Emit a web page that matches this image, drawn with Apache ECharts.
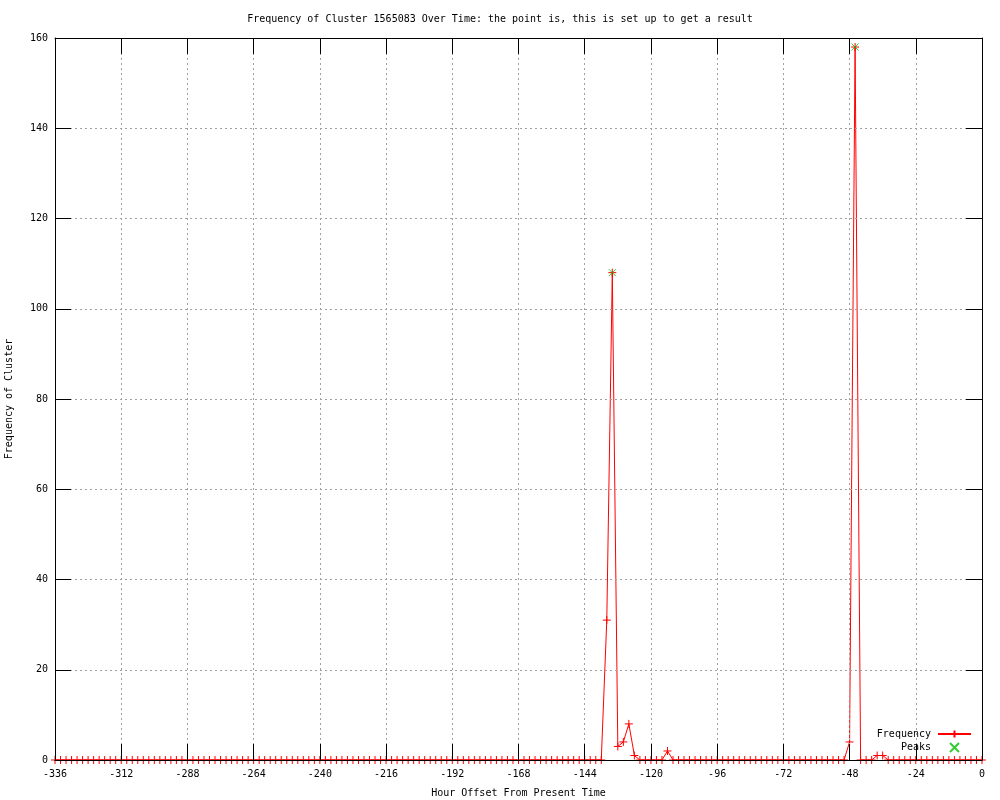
<!DOCTYPE html>
<html>
<head>
<meta charset="utf-8">
<script src="https://cdn.jsdelivr.net/npm/echarts@6/dist/echarts.min.js"></script>
<style>html,body{margin:0;padding:0;background:#fff}#c{width:1000px;height:800px}</style>
</head>
<body>
<div id="c"></div>
<script>
var titleText = 'Frequency of Cluster 1565083 Over Time: the point is, this is set up to get a result';
var xName = 'Hour Offset From Present Time';
var yName = 'Frequency of Cluster';

var hours = [
  -336,-334,-332,-330,-328,-326,-324,-322,-320,-318,-316,-314,
  -312,-310,-308,-306,-304,-302,-300,-298,-296,-294,-292,-290,
  -288,-286,-284,-282,-280,-278,-276,-274,-272,-270,-268,-266,
  -264,-262,-260,-258,-256,-254,-252,-250,-248,-246,-244,-242,
  -240,-238,-236,-234,-232,-230,-228,-226,-224,-222,-220,-218,
  -216,-214,-212,-210,-208,-206,-204,-202,-200,-198,-196,-194,
  -192,-190,-188,-186,-184,-182,-180,-178,-176,-174,-172,-170,
  -168,-166,-164,-162,-160,-158,-156,-154,-152,-150,-148,-146,
  -144,-142,-140,-138,-136,-134,-132,-130,-128,-126,-124,-122,
  -120,-118,-116,-114,-112,-110,-108,-106,-104,-102,-100,-98,
  -96,-94,-92,-90,-88,-86,-84,-82,-80,-78,-76,-74,
  -72,-70,-68,-66,-64,-62,-60,-58,-56,-54,-52,-50,
  -48,-46,-44,-42,-40,-38,-36,-34,-32,-30,-28,-26,
  -24,-22,-20,-18,-16,-14,-12,-10,-8,-6,-4,-2,
  0
];
var frequency = [
  0,0,0,0,0,0,0,0,0,0,0,0,
  0,0,0,0,0,0,0,0,0,0,0,0,
  0,0,0,0,0,0,0,0,0,0,0,0,
  0,0,0,0,0,0,0,0,0,0,0,0,
  0,0,0,0,0,0,0,0,0,0,0,0,
  0,0,0,0,0,0,0,0,0,0,0,0,
  0,0,0,0,0,0,0,0,0,0,0,0,
  0,0,0,0,0,0,0,0,0,0,0,0,
  0,0,0,0,31,108,3,4,8,1,0,0,
  0,0,0,2,0,0,0,0,0,0,0,0,
  0,0,0,0,0,0,0,0,0,0,0,0,
  0,0,0,0,0,0,0,0,0,0,0,0,
  4,158,0,0,0,1,1,0,0,0,0,0,
  0,0,0,0,0,0,0,0,0,0,0,0,
  0
];
var peakHours = [-134, -46];
var peakValues = [108, 158];

var xMin = -336, xMax = 0, xStep = 24;
var yMin = 0, yMax = 160, yStep = 20;

var FONT = '"DejaVu Sans Mono", "Liberation Mono", monospace';
var FS = 10;

var freqData = hours.map(function (h, i) { return [h, frequency[i]]; });
var peakData = peakHours.map(function (h, i) { return [h, peakValues[i]]; });

var plusPath = 'path://M0,5L10,5M5,0L5,10';
var crossPath = 'path://M0,0L10,10M10,0L0,10';

function axisBase(extra) {
  var o = {
    axisLine: { show: true, onZero: false, lineStyle: { color: '#000', width: 1 } },
    axisTick: { show: true, inside: true, length: 16, lineStyle: { color: '#000', width: 1 } },
    z: 5
  };
  for (var k in extra) o[k] = extra[k];
  return o;
}

var chart = echarts.init(document.getElementById('c'), null, { renderer: 'canvas' });
chart.setOption({
  animation: false,
  backgroundColor: '#fff',
  textStyle: { fontFamily: FONT, color: '#000' },
  title: {
    text: titleText,
    left: 'center',
    top: 9,
    textStyle: { fontFamily: FONT, fontSize: FS, fontWeight: 'normal', color: '#000' }
  },
  grid: { left: 55, right: 18, top: 38, bottom: 40, containLabel: false, outerBoundsMode: 'none' },
  legend: {
    orient: 'vertical',
    right: 23,
    top: 724,
    align: 'right',
    itemWidth: 33,
    itemHeight: 9,
    itemGap: 3,
    textStyle: { fontFamily: FONT, fontSize: FS, color: '#000', padding: [0, 2, 0, 0] },
    data: [{ name: 'Frequency' }, { name: 'Peaks' }]
  },
  xAxis: [
    axisBase({
      type: 'value', position: 'bottom', min: xMin, max: xMax, interval: xStep,
      axisLabel: { color: '#000', fontFamily: FONT, fontSize: FS, margin: 9 },
      splitLine: { show: true, lineStyle: { color: '#a0a0a0', type: [2, 3], width: 1 } },
      name: xName, nameLocation: 'middle', nameGap: 28,
      nameTextStyle: { fontFamily: FONT, fontSize: FS, color: '#000' }
    }),
    axisBase({
      type: 'value', position: 'top', min: xMin, max: xMax, interval: xStep,
      axisLabel: { show: false }, splitLine: { show: false }
    })
  ],
  yAxis: [
    axisBase({
      type: 'value', position: 'left', min: yMin, max: yMax, interval: yStep,
      axisLabel: { color: '#000', fontFamily: FONT, fontSize: FS, margin: 7 },
      splitLine: { show: true, lineStyle: { color: '#a0a0a0', type: [2, 3], width: 1 } },
      name: yName, nameLocation: 'middle', nameGap: 41, nameRotate: 90,
      nameTextStyle: { fontFamily: FONT, fontSize: FS, color: '#000' }
    }),
    axisBase({
      type: 'value', position: 'right', min: yMin, max: yMax, interval: yStep,
      axisLabel: { show: false }, splitLine: { show: false }
    })
  ],
  series: [
    {
      name: 'Frequency',
      type: 'line',
      xAxisIndex: 0, yAxisIndex: 0,
      data: freqData,
      showSymbol: true,
      showAllSymbol: true,
      symbol: plusPath,
      symbolSize: 8,
      lineStyle: { color: '#ff0000', width: 1 },
      itemStyle: { color: '#ff0000', borderColor: '#ff0000', borderWidth: 1 },
      z: 3
    },
    {
      name: 'Peaks',
      type: 'scatter',
      xAxisIndex: 0, yAxisIndex: 0,
      data: peakData,
      symbol: crossPath,
      symbolSize: 7,
      symbolKeepAspect: true,
      itemStyle: { color: '#00c000', borderColor: '#00c000', borderWidth: 1 },
      z: 4
    }
  ]
});
</script>
</body>
</html>
